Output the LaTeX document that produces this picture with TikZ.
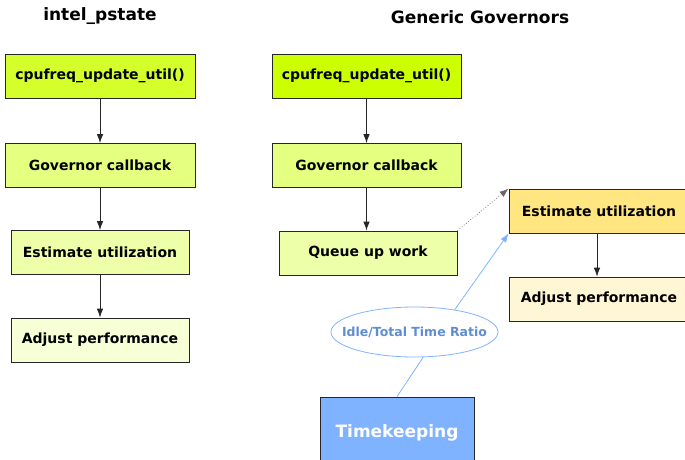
\documentclass[tikz,border=0pt]{standalone}
\usepackage{fontspec}
\setmainfont{DejaVu Sans}
\usetikzlibrary{arrows.meta,shapes.geometric}
\definecolor{limeA}{HTML}{D4FF2A}
\definecolor{limeB}{HTML}{CCFF00}
\definecolor{limeC}{HTML}{E5FF80}
\definecolor{limeD}{HTML}{EEFFAA}
\definecolor{limeE}{HTML}{F6FFD5}
\definecolor{goldA}{HTML}{FFE680}
\definecolor{goldB}{HTML}{FFF6D5}
\definecolor{skyA}{HTML}{80B3FF}
\definecolor{skyText}{HTML}{5F8DD3}
\tikzset{
  x=1pt, y=-1pt,
  box/.style={draw=black!85, line width=0.8pt, minimum height=44pt, inner sep=0pt,
    font=\bfseries\fontsize{14}{16}\selectfont},
  wide/.style={box, minimum width=190pt},
  narrow/.style={box, minimum width=178pt},
  title/.style={font=\bfseries\fontsize{17}{20}\selectfont},
  flow/.style={draw=black!85, line width=0.8pt, -{Latex[length=9pt,width=6.5pt]}},
}
\begin{document}
\begin{tikzpicture}
\useasboundingbox (0,0) rectangle (685,460);
\begin{scope}
\clip (0,0) rectangle (685,460);

% column headings
\node[title] (hl) at (100,16) {intel\_pstate};
\node[title] (hr) at (480,17) {Generic Governors};

% intel_pstate path
\node[wide, fill=limeA] (l1) at (100,76) {cpufreq\_update\_util()};
\node[wide, fill=limeC] (l2) at (100,165.5) {Governor callback};
\node[narrow, fill=limeD] (l3) at (100,252.5) {Estimate utilization};
\node[narrow, fill=limeE] (l4) at (100,340) {Adjust performance};

% generic governor path
\node[wide, minimum width=189pt, fill=limeB] (r1) at (366.5,76) {cpufreq\_update\_util()};
\node[wide, minimum width=189pt, fill=limeC] (r2) at (366.5,165.5) {Governor callback};
\node[narrow, fill=limeD] (r3) at (368,253) {Queue up work};
\node[narrow, minimum width=180pt, fill=goldA] (r4) at (599,211) {Estimate utilization};
\node[narrow, minimum width=180pt, fill=goldB] (r5) at (599,299) {Adjust performance};

% time source
\node[ellipse, draw=skyA, line width=0.8pt, minimum width=167pt, minimum height=50pt,
  inner sep=0pt, text=skyText, font=\bfseries\fontsize{12.5}{14}\selectfont]
  (ratio) at (414.5,332) {\makebox[100pt]{Idle/Total Time Ratio}};
\node[draw=black!85, line width=0.8pt, fill=skyA, minimum width=154pt, minimum height=80pt,
  inner sep=0pt, text=white, font=\bfseries\fontsize{17}{20}\selectfont,
  text depth=0pt] (tk) at (397,437) {\raisebox{12pt}{Timekeeping}};

% connectors
\draw[flow] (l1) -- (l2);
\draw[flow] (l2) -- (l3);
\draw[flow] (l3) -- (l4);
\draw[flow] (r1) -- (r2);
\draw[flow] (r2.south) -- (r2.south |- r3.north);
\draw[flow] (r4.south -| 597,0) -- (r5.north -| 597,0);
\draw[flow, draw=black!60, dotted, line width=0.7pt] (r3.north east) -- (r4.north west);
\draw[flow, draw=skyA] (ratio.29) -- (r4.south west);
\draw[draw=skyA, line width=0.8pt] (tk.north) -- (ratio.-71);
\end{scope}
\end{tikzpicture}
\end{document}
